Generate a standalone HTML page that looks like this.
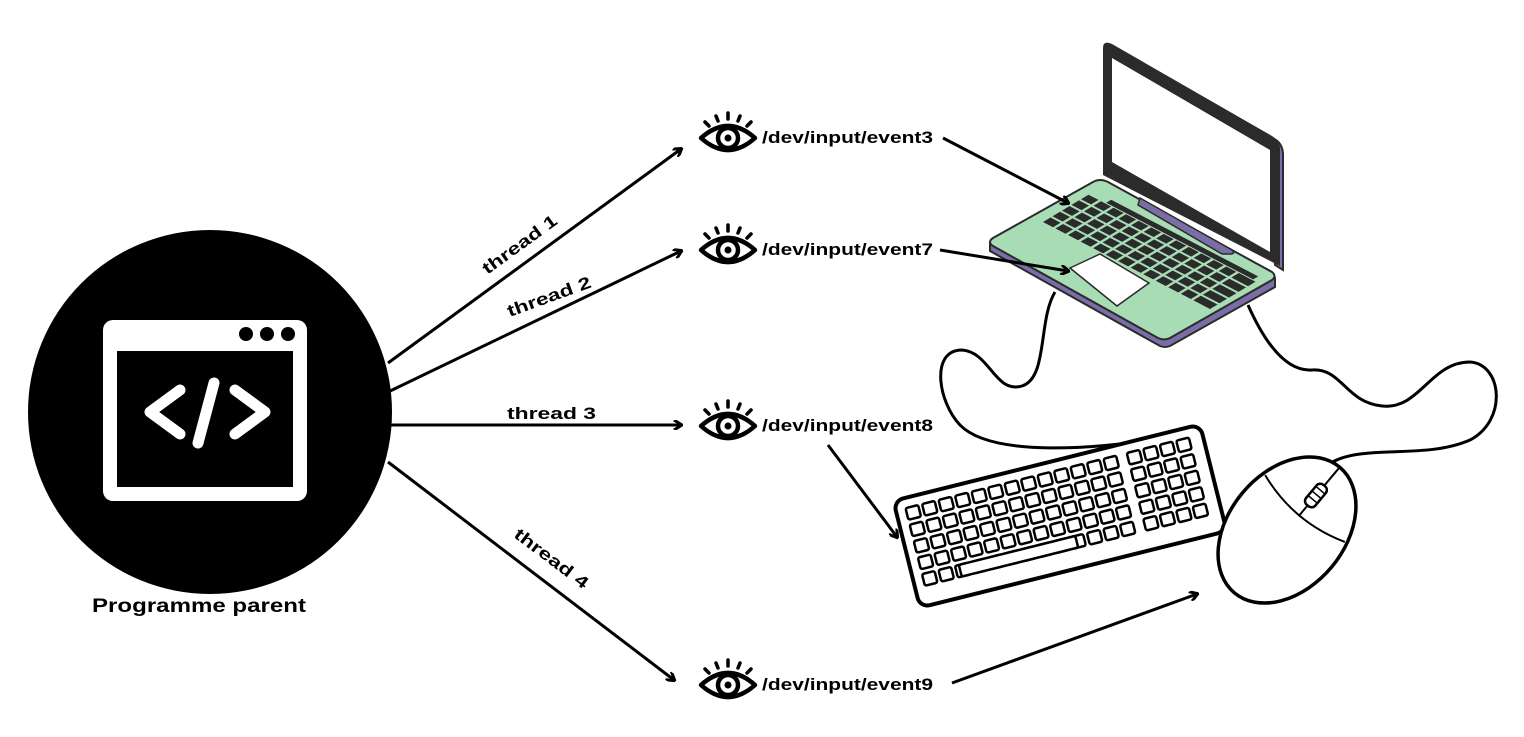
<!DOCTYPE html>
<html><head><meta charset="utf-8"><style>
body{margin:0;background:#fff;}
svg text{font-family:"Liberation Sans",sans-serif;font-weight:bold;}
</style></head><body>
<svg width="1524" height="732" viewBox="0 0 1524 732" xmlns="http://www.w3.org/2000/svg">
<defs>
<marker id="ah" markerWidth="10" markerHeight="10" refX="8" refY="5" orient="auto" markerUnits="userSpaceOnUse">
<path d="M1,0 L9,5 L1,10" fill="none" stroke="#000" stroke-width="3"/>
</marker>
<g id="eye">
<path d="M-27,0 Q0,-24 27,0 Q0,24 -27,0 Z" fill="none" stroke="#000" stroke-width="4.5" stroke-linejoin="round"/>
<circle cx="0" cy="0" r="10" fill="none" stroke="#000" stroke-width="4.5"/>
<circle cx="0" cy="0" r="3.5" fill="#000"/>
<g stroke="#000" stroke-width="3.5" stroke-linecap="round">
<line x1="0" y1="-25" x2="0" y2="-19"/>
<line x1="-12" y1="-22" x2="-10" y2="-17"/>
<line x1="12" y1="-22" x2="10" y2="-17"/>
<line x1="-23" y1="-16" x2="-19" y2="-12"/>
<line x1="23" y1="-16" x2="19" y2="-12"/>
</g>
</g>
<g id="krow">
<rect x="-148" y="-45" width="13" height="12" rx="2"/><rect x="-131" y="-45" width="13" height="12" rx="2"/><rect x="-114" y="-45" width="13" height="12" rx="2"/><rect x="-97" y="-45" width="13" height="12" rx="2"/><rect x="-80" y="-45" width="13" height="12" rx="2"/><rect x="-63" y="-45" width="13" height="12" rx="2"/><rect x="-46" y="-45" width="13" height="12" rx="2"/><rect x="-29" y="-45" width="13" height="12" rx="2"/><rect x="-12" y="-45" width="13" height="12" rx="2"/><rect x="5" y="-45" width="13" height="12" rx="2"/><rect x="22" y="-45" width="13" height="12" rx="2"/><rect x="39" y="-45" width="13" height="12" rx="2"/><rect x="56" y="-45" width="13" height="12" rx="2"/><rect x="80" y="-45" width="13" height="12" rx="2"/><rect x="97" y="-45" width="13" height="12" rx="2"/><rect x="114" y="-45" width="13" height="12" rx="2"/><rect x="131" y="-45" width="13" height="12" rx="2"/>
</g>
<g id="lrow">
<rect x="0.00" width="0.06" height="0.15"/><rect x="0.075" width="0.06" height="0.15"/><rect x="0.15" width="0.06" height="0.15"/><rect x="0.225" width="0.06" height="0.15"/><rect x="0.30" width="0.06" height="0.15"/><rect x="0.375" width="0.06" height="0.15"/><rect x="0.45" width="0.06" height="0.15"/><rect x="0.525" width="0.06" height="0.15"/><rect x="0.60" width="0.06" height="0.15"/><rect x="0.675" width="0.06" height="0.15"/><rect x="0.75" width="0.06" height="0.15"/><rect x="0.825" width="0.06" height="0.15"/><rect x="0.90" width="0.10" height="0.15"/>
</g>
</defs>

<!-- parent circle -->
<circle cx="210" cy="412" r="182" fill="#000"/>
<rect x="103" y="320" width="204" height="181" rx="10" fill="#fff"/>
<rect x="117" y="351" width="176" height="136" fill="#000"/>
<circle cx="246" cy="334" r="7" fill="#000"/><circle cx="267" cy="334" r="7" fill="#000"/><circle cx="288" cy="334" r="7" fill="#000"/>
<path d="M180,390 L150,412 L180,434 M235,390 L265,412 L235,434 M214,383 L198,443" fill="none" stroke="#fff" stroke-width="11" stroke-linecap="round" stroke-linejoin="round"/>
<text x="92" y="612" font-size="19" textLength="214" lengthAdjust="spacingAndGlyphs">Programme parent</text>

<text font-size="17" transform="translate(523,249) rotate(-36)" x="-44" textLength="88" lengthAdjust="spacingAndGlyphs">thread 1</text>
<text font-size="17" transform="translate(551,302) rotate(-20)" x="-44" textLength="88" lengthAdjust="spacingAndGlyphs">thread 2</text>
<text font-size="17" x="507" y="419" textLength="89" lengthAdjust="spacingAndGlyphs">thread 3</text>
<text font-size="17" transform="translate(548,563) rotate(37)" x="-44" textLength="88" lengthAdjust="spacingAndGlyphs">thread 4</text>

<!-- eyes + labels -->
<use href="#eye" x="728" y="138"/>
<use href="#eye" x="728" y="250"/>
<use href="#eye" x="728" y="426"/>
<use href="#eye" x="728" y="685"/>
<g font-size="17">
<text x="762" y="143" textLength="171" lengthAdjust="spacingAndGlyphs">/dev/input/event3</text>
<text x="762" y="255" textLength="171" lengthAdjust="spacingAndGlyphs">/dev/input/event7</text>
<text x="762" y="431" textLength="171" lengthAdjust="spacingAndGlyphs">/dev/input/event8</text>
<text x="762" y="690" textLength="171" lengthAdjust="spacingAndGlyphs">/dev/input/event9</text>
</g>

<!-- cables -->
<g fill="none" stroke="#000" stroke-width="3">
<path d="M1055,292 C1038,320 1048,378 1022,386 C995,394 990,352 962,350 C930,350 938,402 960,425 C992,458 1100,448 1150,440 L1150,447"/>
<path d="M1248,305 C1260,332 1282,372 1312,370 C1342,368 1345,402 1382,406 C1420,410 1430,362 1470,362 C1502,364 1508,420 1470,440 C1420,462 1350,440 1322,470"/>
</g>

<!-- laptop -->
<path d="M1108,44 L1276,140 Q1283,145 1283,155 L1283,270 L1275,265 L1275,150 Z" fill="#7b6ea8" stroke="#2b2b2b" stroke-width="2"/>
<path d="M1103,48 Q1103,40 1112,44 L1272,136 Q1280,141 1280,150 L1280,266 L1103,175 Z" fill="#2b2b2b"/>
<path d="M1112,58 L1270,150 L1270,252 L1112,162 Z" fill="#fff"/>
<path d="M990,243 L990,251 L1160,346 Q1165,348 1170,346 L1275,287 L1275,278 Z" fill="#7b6ea8" stroke="#2b2b2b" stroke-width="2"/>
<path d="M993,238 L1093,182 Q1100,178 1108,182 L1272,272 Q1277,276 1272,280 L1170,338 Q1164,341 1158,338 L993,246 Q987,242 993,238 Z" fill="#a8dcb4" stroke="#2b2b2b" stroke-width="2"/>
<path d="M1140,198 L1232,250 Q1236,254 1230,254 L1222,254 L1138,205 Z" fill="#7b6ea8" stroke="#2b2b2b" stroke-width="1.5"/>
<path d="M1070,268 L1100,254 L1149,283 L1117,306 Z" fill="#fff" stroke="#2b2b2b" stroke-width="1.5"/>
<g transform="matrix(167,87,50,-30,1043,222)" fill="#2b2b2b">
<use href="#lrow" y="0.0"/>
<use href="#lrow" y="0.19"/>
<use href="#lrow" y="0.38"/>
<use href="#lrow" y="0.57"/>
<use href="#lrow" y="0.76"/>
<rect x="0.1" y="0.93" width="0.88" height="0.1"/>
</g>

<!-- keyboard -->
<g transform="translate(1060,516) rotate(-14)">
<rect x="-158" y="-55" width="316" height="110" rx="10" fill="#fff" stroke="#000" stroke-width="4"/>
<g fill="#fff" stroke="#000" stroke-width="2.5">
<use href="#krow"/>
<use href="#krow" y="17"/><use href="#krow" y="34"/><use href="#krow" y="51"/><use href="#krow" y="68"/>
<rect x="-110" y="23" width="120" height="12" rx="2"/>
</g>
</g>

<!-- mouse -->
<g transform="translate(1287,530) rotate(40)">
<ellipse cx="0" cy="0" rx="58" ry="82" fill="#fff" stroke="#000" stroke-width="3.5"/>
<path d="M-52,-28 Q0,-10 52,-28" fill="none" stroke="#000" stroke-width="2"/>
<line x1="0" y1="-82" x2="0" y2="-18" stroke="#000" stroke-width="2"/>
<rect x="-6" y="-58" width="12" height="26" rx="5" fill="#fff" stroke="#000" stroke-width="2.5"/>
<path d="M-6,-52h12M-6,-46h12M-6,-40h12" stroke="#000" stroke-width="1.5"/>
</g>

<!-- arrows on top -->
<g stroke="#000" stroke-width="3" fill="none" marker-end="url(#ah)">
<line x1="388" y1="363" x2="681" y2="149"/>
<line x1="388" y1="392" x2="681" y2="251"/>
<line x1="390" y1="425" x2="681" y2="425"/>
<line x1="388" y1="462" x2="674" y2="680"/>
<line x1="943" y1="138" x2="1068" y2="203"/>
<line x1="940" y1="250" x2="1068" y2="271"/>
<line x1="828" y1="445" x2="897" y2="537"/>
<line x1="952" y1="683" x2="1197" y2="594"/>
</g>
</svg>
</body></html>
